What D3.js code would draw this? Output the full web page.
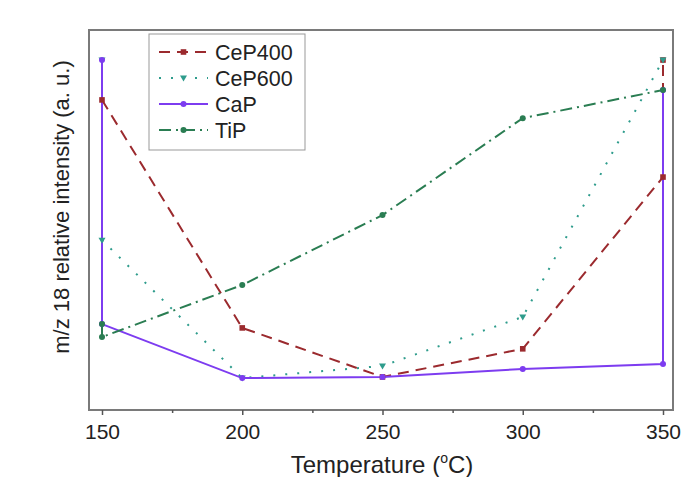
<!DOCTYPE html>
<html>
<head>
<meta charset="utf-8">
<script src="https://cdn.jsdelivr.net/npm/d3@7/dist/d3.min.js"></script>
<style>
  html, body { margin: 0; padding: 0; background: #ffffff; }
  svg text { font-family: "Liberation Sans", Arial, sans-serif; fill: #222; }
</style>
</head>
<body>
<svg id="chart" width="681" height="477"></svg>
<script>
// ---- data (relative intensity, arbitrary units 0-100) ----
const xTicks = [150, 200, 250, 300, 350];
const xMinorTicks = [175, 225, 275, 325];
const seriesNames = ["CeP400", "CeP600", "CaP", "TiP"];

const cep400X = [150, 200, 250, 300, 350, 350];
const cep400Y = [81.6, 21.6, 8.7, 16.1, 61.3, 92.1];

const cep600X = [150, 150, 200, 250, 300, 350];
const cep600Y = [92.1, 44.7, 8.4, 11.6, 24.5, 92.1];

const capX = [150, 150, 200, 250, 300, 350, 350];
const capY = [92.1, 22.6, 8.4, 8.7, 10.8, 12.1, 84.2];

const tipX = [150, 150, 200, 250, 300, 350];
const tipY = [22.6, 19.2, 32.9, 51.3, 76.8, 84.2];

const xTitle = "Temperature (";
const yTitle = "m/z 18 relative intensity (a. u.)";

// ---- styles ----
const styles = {
  CeP400: { color: "#9b2a2e", dash: "11,7", marker: "square" },
  CeP600: { color: "#2e9c8c", dash: "2,10", marker: "triangle" },
  CaP:    { color: "#7d3cf0", dash: null, marker: "circle" },
  TiP:    { color: "#2a7d52", dash: "12,5,2,5", marker: "circle" }
};

const series = [
  { name: "CeP400", xs: cep400X, ys: cep400Y },
  { name: "CeP600", xs: cep600X, ys: cep600Y },
  { name: "CaP",    xs: capX,    ys: capY },
  { name: "TiP",    xs: tipX,    ys: tipY }
].map(s => ({ ...s, pts: s.xs.map((x, i) => ({ x, y: s.ys[i] })) }));

const svg = d3.select("#chart");
const frame = { left: 89, right: 673, top: 30, bottom: 410 };

const x = d3.scaleLinear().domain([150, 350]).range([102, 663]);
const y = d3.scaleLinear().domain([0, 100]).range([frame.bottom, frame.top]);

// frame
svg.append("rect")
  .attr("x", frame.left).attr("y", frame.top)
  .attr("width", frame.right - frame.left)
  .attr("height", frame.bottom - frame.top)
  .attr("fill", "#fff")
  .attr("stroke", "#7a7a7a").attr("stroke-width", 2);

// x axis
const xAxis = svg.append("g").attr("transform", `translate(0,${frame.bottom})`)
  .call(d3.axisBottom(x).tickValues(xTicks).tickSize(5).tickPadding(9).tickFormat(d3.format("d")));
xAxis.select(".domain").remove();
xAxis.selectAll("line").attr("stroke", "#555").attr("stroke-width", 1.5);
xAxis.selectAll("text").style("font-size", "21px").attr("fill", "#222")
  .style("font-family", '"Liberation Sans", Arial, sans-serif');

const xMinor = svg.append("g").attr("transform", `translate(0,${frame.bottom})`)
  .call(d3.axisBottom(x).tickValues(xMinorTicks).tickSize(3).tickFormat(""));
xMinor.select(".domain").remove();
xMinor.selectAll("line").attr("stroke", "#555").attr("stroke-width", 1.5);

// lines
const line = d3.line().x(d => x(d.x)).y(d => y(d.y));
const lineG = svg.append("g");
series.forEach(s => {
  const st = styles[s.name];
  lineG.append("path")
    .datum(s.pts)
    .attr("fill", "none")
    .attr("stroke", st.color)
    .attr("stroke-width", 2)
    .attr("stroke-dasharray", st.dash)
    .attr("d", line);
});

function drawMarker(g, type, cx, cy, color) {
  if (type === "circle") {
    g.append("circle").attr("cx", cx).attr("cy", cy).attr("r", 3).attr("fill", color);
  } else if (type === "square") {
    g.append("rect").attr("x", cx - 2.8).attr("y", cy - 2.8).attr("width", 5.6).attr("height", 5.6).attr("fill", color);
  } else {
    g.append("path").attr("d", `M${cx - 3.5},${cy - 2.5}L${cx + 3.5},${cy - 2.5}L${cx},${cy + 3.5}Z`).attr("fill", color);
  }
}

// markers
const markG = svg.append("g");
series.forEach(s => {
  const st = styles[s.name];
  s.pts.forEach(p => drawMarker(markG, st.marker, x(p.x), y(p.y), st.color));
});

// legend
const legend = svg.append("g");
legend.append("rect")
  .attr("x", 149).attr("y", 34).attr("width", 156).attr("height", 116)
  .attr("fill", "#fff").attr("stroke", "#999").attr("stroke-width", 1);
seriesNames.forEach((name, i) => {
  const st = styles[name];
  const cy = 52 + i * 26;
  legend.append("line")
    .attr("x1", 159).attr("x2", 208).attr("y1", cy).attr("y2", cy)
    .attr("stroke", st.color).attr("stroke-width", 2)
    .attr("stroke-dasharray", st.dash);
  drawMarker(legend, st.marker, 183.5, cy, st.color);
  legend.append("text")
    .attr("x", 215).attr("y", cy + 7.5)
    .style("font-size", "21.5px")
    .text(name);
});

// axis titles
const xt = svg.append("text")
  .attr("x", 382).attr("y", 473)
  .attr("text-anchor", "middle")
  .style("font-size", "24px");
xt.append("tspan").text(xTitle);
xt.append("tspan").text("o").attr("dy", -10).style("font-size", "14px");
xt.append("tspan").text("C)").attr("dy", 10);

svg.append("text")
  .attr("transform", "translate(69,207) rotate(-90)")
  .attr("text-anchor", "middle")
  .style("font-size", "22px")
  .text(yTitle);
</script>
</body>
</html>
